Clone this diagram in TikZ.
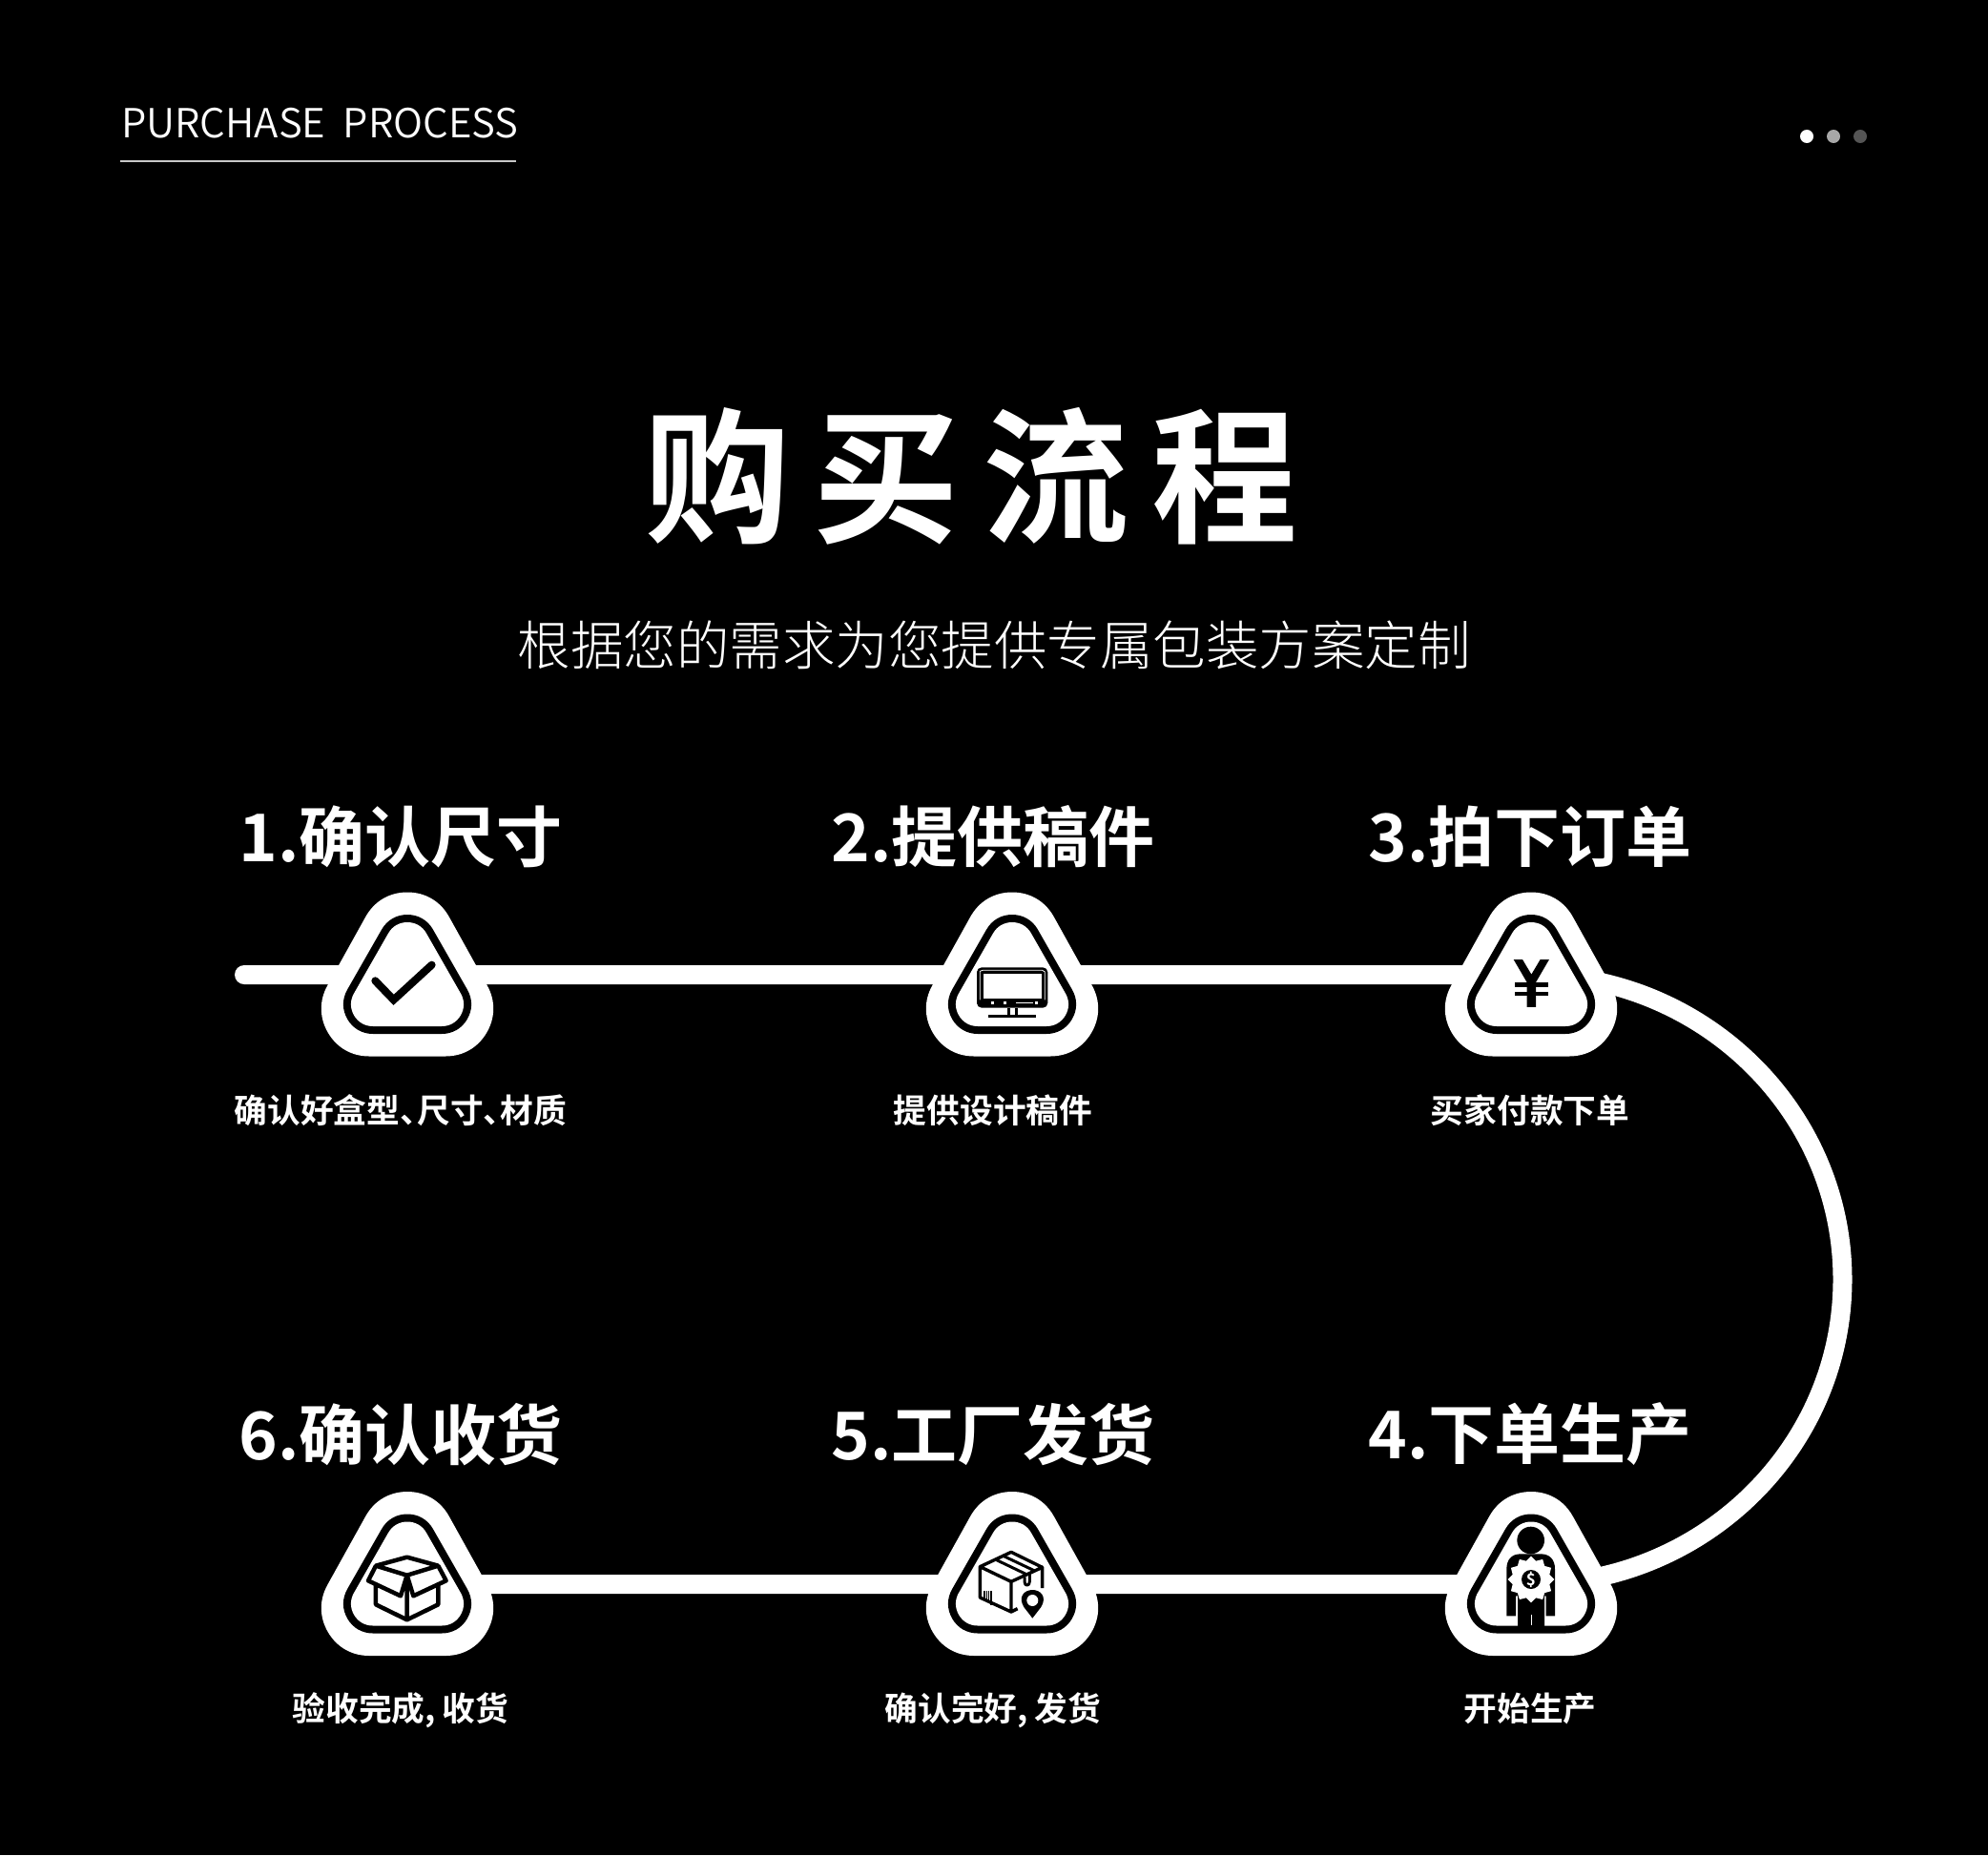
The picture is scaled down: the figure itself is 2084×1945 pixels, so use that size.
\documentclass[tikz,border=0pt]{standalone}
\usepackage{fontspec}
\setmainfont{Noto Sans CJK SC}
\newfontfamily\cjkbold{Noto Sans CJK SC Bold}
\newfontfamily\cjklight{Noto Sans CJK SC Light}
\newfontfamily\cjkdemi{Noto Sans CJK SC DemiLight}
\newfontfamily\cjktitle[LetterSpace=16]{Noto Sans CJK SC Bold}
\definecolor{dotmid}{HTML}{A8A8A8}
\definecolor{dotdim}{HTML}{555555}
\definecolor{rulegrey}{HTML}{C8C8C8}
\tikzset{
  flow/.style={draw=white,line width=20pt,line cap=round},
  heading/.style={text=white,font=\cjkbold\fontsize{69}{80}\selectfont,inner sep=0pt},
  caption/.style={text=white,font=\cjkbold\fontsize{34.7}{40}\selectfont,inner sep=0pt,text height=30pt,text depth=6pt},
  inzoom/.style={shift={(#1)},x=0.3333pt,y=-0.3333pt},
  badge/.pic={
    \path[fill=white,draw=white,line width=100pt,line join=round] (0,-36.5) -- (-40,35.5) -- (40,35.5) -- cycle;
    \path[fill=black,draw=black,line width=62pt,line join=round] (0,-32) -- (-36,31) -- (36,31) -- cycle;
    \path[fill=white,draw=white,line width=46pt,line join=round] (0,-32) -- (-36,31) -- (36,31) -- cycle;
  }
}
\begin{document}
\begin{tikzpicture}[x=1pt,y=-1pt]
\useasboundingbox[fill=black] (0,0) rectangle (2084,1945);
% header
\node[anchor=base west,inner sep=0pt,text=white,font=\cjkdemi\fontsize{42}{48}\selectfont] (eyebrow) at (127,145) {PURCHASE\hspace{9pt} PROCESS};
\coordinate (ruleL) at (126,169); \coordinate (ruleR) at (541,169);
\draw[rulegrey,line width=1.6pt] (ruleL) -- (ruleR);
\fill[white] (1894,143) circle (7);
\fill[dotmid] (1922,143) circle (7);
\fill[dotdim] (1950,143) circle (7);
% titles
\node[text=white,font=\cjktitle\fontsize{153}{170}\selectfont,inner sep=0pt] (title) at (1018,499) {购买流程};
\node[text=white,font=\cjklight\fontsize{55.5}{64}\selectfont,inner sep=0pt] (subtitle) at (1042,676) {根据您的需求为您提供专属包装方案定制};
% flow line
\coordinate (start) at (256,1022);
\coordinate (n1) at (427,1022);
\coordinate (n2) at (1061,1022);
\coordinate (n3) at (1605,1022);
\coordinate (n4) at (1605,1661);
\coordinate (n5) at (1061,1661);
\coordinate (n6) at (427,1661);
\draw[flow] (start) -- (n1) -- (n2) -- (n3) arc[x radius=326.5,y radius=319.5,start angle=-90,end angle=90] -- (n5) -- (n6);
% badges
\foreach \c in {1,2,3} { \pic at (n\c) {badge}; }
\foreach \c in {4,5,6} { \pic at ([yshift=10.5pt]n\c) {badge}; }
% headings
\node[heading] (h1) at (420,877) {1.确认尺寸};
\node[heading] (h2) at (1041,877) {2.提供稿件};
\node[heading] (h3) at (1604,877) {3.拍下订单};
\node[heading] (h4) at (1604,1504) {4.下单生产};
\node[heading] (h5) at (1041,1504) {5.工厂发货};
\node[heading] (h6) at (420,1504) {6.确认收货};
% captions
\node[caption] (c1) at (420,1165) {确认好盒型、\hspace{-16.5pt}尺寸、\hspace{-16.5pt}材质};
\node[caption] (c2) at (1041,1165) {提供设计稿件};
\node[caption] (c3) at (1604,1165) {买家付款下单};
\node[caption] (c4) at (1604,1792) {开始生产};
\node[caption] (c5) at (1041,1792) {确认完好,\hspace{7pt}发货};
\node[caption] (c6) at (420,1792) {验收完成,\hspace{7pt}收货};
% icon 1: check
\begin{scope}[inzoom={230,900}]
  \draw[black,line width=8pt,line cap=round,line join=miter] (490,385) -- (548,445) -- (668,335);
\end{scope}
% icon 2: monitor
\begin{scope}[inzoom={950,920}]
  \fill[black,rounded corners=5pt] (222,283) rectangle (445,410);
  \fill[white] (243,303) rectangle (425,380);
  \draw[white,line width=0.8pt] (232,385) -- (232,295) -- (240,292) -- (428,292) -- (436,297) -- (436,385);
  \fill[white] (268,390) rectangle (277,398);
  \fill[white] (307,390) rectangle (316,398);
  \fill[white] (345,392) rectangle (398,395);
  \fill[white] (406,390) rectangle (415,398);
  \fill[black] (318,410) rectangle (350,438);
  \fill[white] (327,412) rectangle (341,432);
  \fill[black] (258,433) rectangle (409,441);
\end{scope}
% icon 3: yen
\begin{scope}[inzoom={1490,920}]
  \fill[black] (290,258) -- (318,258) -- (346,305) -- (374,258) -- (402,258) -- (360,330) -- (360,408) -- (332,408) -- (332,330) -- cycle;
  \fill[black] (294,330) rectangle (398,344);
  \fill[black] (294,359) rectangle (398,373);
\end{scope}
% icon 4: person
\begin{scope}[inzoom={1490,1550}]
  \fill[black] (344,195) circle (43);
  \fill[black] (268,433) -- (268,285) .. controls (268,255) and (285,238) .. (312,238) -- (376,238) .. controls (403,238) and (420,255) .. (420,285) -- (420,433) -- (392,433) -- (392,370) -- (387,370) -- (387,465) -- (303,465) -- (303,370) -- (297,370) -- (297,433) -- cycle;
  \draw[white,line width=1pt] (345,430) -- (345,462);
  \fill[white] (418,318)
    \foreach \a in {15,30,...,360} {
      -- ({345+(mod(\a,30)==0 ? 73 : 60)*cos(\a)},{318+(mod(\a,30)==0 ? 73 : 60)*sin(\a)})
    } -- cycle;
  \fill[black] (345,318) circle (30);
  \node[text=white,inner sep=0pt,font=\cjkbold\fontsize{17}{20}\selectfont] (dollar) at (345,319) {\$};
\end{scope}
% icon 5: box and pin
\begin{scope}[inzoom={950,1550}]
  \draw[black,line width=3.4pt,line join=round]
    (330,232) -- (232,278) -- (330,325) -- (428,280) -- cycle
    (232,278) -- (232,375) -- (330,420) -- (350,410)
    (330,325) -- (330,420)
    (428,280) -- (428,345);
  \draw[black,line width=3pt,line join=round]
    (280,255) -- (378,302) (303,243) -- (402,290)
    (372,310) -- (372,325) .. controls (372,340) and (388,340) .. (388,325) -- (388,297);
  \foreach \t in {246,253,260,267} { \draw[black,line width=1.4pt] (\t,355) -- (\t,{377+\t-246}); }
  \fill[black] (397,440) -- (370,405) .. controls (350,372) and (372,351) .. (397,351) .. controls (422,351) and (444,372) .. (424,405) -- cycle;
  \fill[white] (397,384) circle (18);
\end{scope}
% icon 6: open box
\begin{scope}[inzoom={320,1550}]
  \draw[black,line width=4.5pt,line join=round]
    (320,248) -- (222,275) -- (320,305) -- (418,275) -- cycle
    (222,275) -- (198,322) -- (300,370) -- (320,305) -- (340,370) -- (443,322) -- (418,275)
    (222,338) -- (222,397) -- (320,445) -- (418,397) -- (418,338)
    (320,305) -- (320,445);
\end{scope}
\end{tikzpicture}
\end{document}
